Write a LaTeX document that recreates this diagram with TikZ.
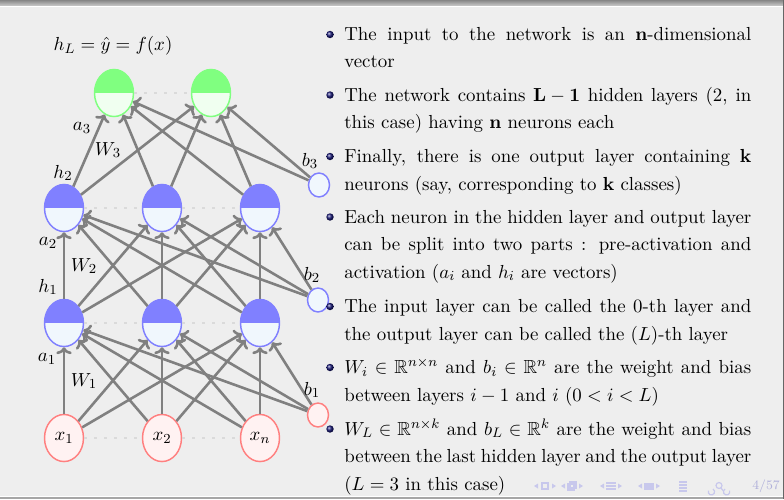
\documentclass[tikz,border=0pt]{standalone}
\usepackage{amsmath,amssymb}
\usetikzlibrary{shapes.geometric,arrows.meta}

\definecolor{slidebg}{RGB}{238,238,238}
\definecolor{edgegray}{RGB}{128,128,128}
\definecolor{dotgray}{RGB}{218,218,218}
\definecolor{hidtop}{RGB}{128,128,255}
\definecolor{hidbot}{RGB}{240,247,253}
\definecolor{outtop}{RGB}{128,255,128}
\definecolor{outbot}{RGB}{240,255,240}
\definecolor{inborder}{RGB}{255,128,128}
\definecolor{infill}{RGB}{255,242,242}
\definecolor{navc}{RGB}{200,200,236}
\definecolor{navtext}{RGB}{176,176,218}
\definecolor{ballblue}{RGB}{25,25,120}

\tikzset{
  every node/.style={font=\fontsize{10.95}{13.6}\selectfont},
  halfnode/.style 2 args={ellipse, draw=#1, line width=0.85pt, fill=#2,
    minimum width=22.6pt, minimum height=27.3pt, inner sep=0pt},
  hidn/.style={halfnode={hidtop}{hidbot},
    path picture={\fill[hidtop] (path picture bounding box.north west)
      rectangle (path picture bounding box.east);}},
  outn/.style={halfnode={outtop}{outbot},
    path picture={\fill[outtop] (path picture bounding box.north west)
      rectangle (path picture bounding box.east);}},
  inn/.style={halfnode={inborder}{infill}},
  biasn/.style 2 args={ellipse, draw=#1, fill=#2, line width=0.85pt,
    minimum width=12.2pt, minimum height=13.9pt, inner sep=0pt},
  edge/.style={draw=edgegray, line width=1.5pt,
    -{To[length=4pt,width=9pt]}},
  layerdots/.style={draw=dotgray, line width=1.5pt, dash pattern=on 1.5pt off 4.3pt},
  lbl/.style={inner sep=0pt},
  txt/.style={inner sep=0pt, anchor=base west},
  ballet/.style={circle, shade, ball color=ballblue, minimum size=4.3pt, inner sep=0pt},
}

% full-width justified line
\newcommand{\jline}[1]{\makebox[236.06pt][s]{#1}}

\begin{document}
\begin{tikzpicture}[x=0.58pt,y=-0.58pt]
\useasboundingbox (0,0) rectangle (784,499);

% slide background and frame
\fill[slidebg] (0,0) rectangle (784,499);
\shade[top color=gray!95, bottom color=gray!40] (0,0) rectangle (784,6);
\fill[white] (0,6) rectangle (784,7);
\fill[white] (0,496) rectangle (784,497);
\fill[gray!70] (0,497) rectangle (784,499);
\fill[gray!80!black] (783,0) rectangle (784,499);

% ---------- network ----------
\node[outn] (o1) at (114,93) {};
\node[outn] (o2) at (211,93) {};

\node[hidn] (h21) at (64,208) {};
\node[hidn] (h22) at (162,208) {};
\node[hidn] (h23) at (260,208) {};

\node[hidn] (h11) at (64,323) {};
\node[hidn] (h12) at (162,323) {};
\node[hidn] (h13) at (260,323) {};

\node[inn] (x1) at (64,438) {$x_1$};
\node[inn] (x2) at (162,438) {$x_2$};
\node[inn] (xn) at (260,438) {$x_n$};

\node[biasn={hidtop}{hidbot}] (b3) at (319,185) {};
\node[biasn={hidtop}{hidbot}] (b2) at (318,300) {};
\node[biasn={inborder}{infill}] (b1) at (318,415) {};

% dotted links inside a layer
\draw[layerdots] (o1) -- (o2);
\draw[layerdots] (h21) -- (h22);
\draw[layerdots] (h22) -- (h23);
\draw[layerdots] (h11) -- (h12);
\draw[layerdots] (h12) -- (h13);
\draw[layerdots] (x1) -- (x2);
\draw[layerdots] (x2) -- (xn);

% input -> first hidden layer
\foreach \s in {x1,x2,xn,b1}
  \foreach \t in {h11,h12,h13}
    \draw[edge] (\s) -- (\t);
% first -> second hidden layer
\foreach \s in {h11,h12,h13,b2}
  \foreach \t in {h21,h22,h23}
    \draw[edge] (\s) -- (\t);
% second hidden layer -> output
\foreach \s in {h21,h22,h23,b3}
  \foreach \t in {o1,o2}
    \draw[edge] (\s) -- (\t);

% labels
\node[lbl] (lout) at (113,46) {$h_L = \hat{y} = f(x)$};
\node[lbl] (la3) at (82,128) {$a_3$};
\node[lbl] (lw3) at (108,150) {$W_3$};
\node[lbl] (lh2) at (63,173) {$h_2$};
\node[lbl] (la2) at (48,243) {$a_2$};
\node[lbl] (lw2) at (84,266) {$W_2$};
\node[lbl] (lh1) at (48,287) {$h_1$};
\node[lbl] (la1) at (47,359) {$a_1$};
\node[lbl] (lw1) at (84,381) {$W_1$};
\node[lbl] (lb3) at (310,161) {$b_3$};
\node[lbl] (lb2) at (312,275) {$b_2$};
\node[lbl] (lb1) at (312,390) {$b_1$};

% ---------- bullet list ----------
\foreach \y/\n in {40.5/d1,101/d2,162.5/d3,223/d4,312.5/d5,373.5/d6,435/d7}
  \node[ballet] (\n) at (330,\y-6) {};

\node[txt] (t1a) at (344,40.5) {\jline{The input to the network is an \textbf{n}-dimensional}};
\node[txt] (t1b) at (344,67.5) {vector};
\node[txt] (t2a) at (344,101) {\jline{The network contains $\mathbf{L-1}$ hidden layers (2, in}};
\node[txt] (t2b) at (344,128) {this case) having \textbf{n} neurons each};
\node[txt] (t3a) at (344,162.5) {\jline{Finally, there is one output layer containing \textbf{k}}};
\node[txt] (t3b) at (344,190) {neurons (say, corresponding to \textbf{k} classes)};
\node[txt] (t4a) at (344,223) {\jline{Each neuron in the hidden layer and output layer}};
\node[txt] (t4b) at (344,250.5) {\jline{can be split into two parts : pre-activation and}};
\node[txt] (t4c) at (344,278) {activation ($a_i$ and $h_i$ are vectors)};
\node[txt] (t5a) at (344,312.5) {\jline{The input layer can be called the 0-th layer and}};
\node[txt] (t5b) at (344,340) {the output layer can be called the $(L)$-th layer};
\node[txt] (t6a) at (344,373.5) {\jline{$W_i \in \mathbb{R}^{n\times n}$ and $b_i \in \mathbb{R}^n$ are the weight and bias}};
\node[txt] (t6b) at (344,401) {between layers $i-1$ and $i$ $(0 < i < L)$};
\node[txt] (t7a) at (344,435) {\jline{$W_L \in \mathbb{R}^{n\times k}$ and $b_L \in \mathbb{R}^k$ are the weight and bias}};
\node[txt] (t7b) at (344,462.5) {\jline{between the last hidden layer and the output layer}};
\node[txt] (t7c) at (344,490) {$(L = 3$ in this case)};

% ---------- navigation symbols ----------
\foreach \c in {545,572,611,649} {
  \fill[navc] (\c-11,486) -- (\c-7,483.5) -- (\c-7,488.5) -- cycle;
  \fill[navc] (\c+11,486) -- (\c+7,483.5) -- (\c+7,488.5) -- cycle;
}
\draw[navc, line width=0.6pt] (542,483) rectangle (548,489);
\draw[navc, line width=0.6pt] (568,484) rectangle (574,490);
\draw[navc, line width=0.6pt] (570,482) rectangle (576,488);
\draw[navc, line width=0.8pt] (606,483) -- (616,483) (606,486) -- (616,486) (606,489) -- (616,489);
\fill[navc] (644,482.5) rectangle (654,489.5);
\draw[navc, line width=0.8pt] (679,482) -- (687,482) (679,485) -- (687,485)
  (679,488) -- (687,488) (679,491) -- (687,491);
\draw[navc, line width=0.7pt] (713,489) arc (-60:200:3.2);
\draw[navc, line width=0.7pt] (719,485.5) circle (3) (721,488) -- (723,490.5);
\draw[navc, line width=0.7pt] (725,489) arc (240:-20:3.2);
\node[inner sep=0pt, text=navtext, font=\fontsize{7.5}{9}\selectfont] (pg) at (766,486) {4/57};

\end{tikzpicture}
\end{document}
